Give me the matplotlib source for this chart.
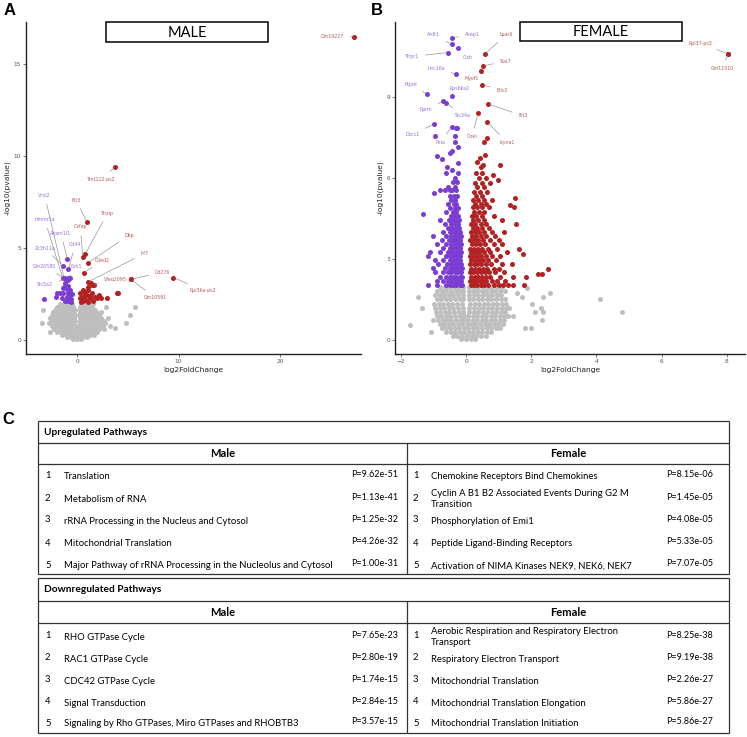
import matplotlib
matplotlib.use('Agg')
import matplotlib.pyplot as plt
from matplotlib.patches import Rectangle

PURPLE = '#7A3CD2'
RED = '#B22222'
GRAY = '#BEBEBE'
LAB_P = '#9470D6'
LAB_R = '#B55A5A'

# ---------------- MALE volcano data ----------------
# non-significant (grey) genes, rows of (-log10 p, [log2FC ...])
male_ns_rows = [
    (0.03, [-0.4, 0.0, 0.4]),
    (0.15, [-1.0, -0.6, -0.2, 0.2, 0.6, 1.0]),
    (0.30, [-1.5, -1.1, -0.7, -0.3, 0.1, 0.5, 0.9, 1.3, 1.7]),
    (0.45, [-2.67, -2.0, -1.6, -1.2, -0.8, -0.4, 0.0, 0.4, 0.8, 1.2, 1.6, 2.0]),
    (0.60, [-2.3, -1.9, -1.5, -1.1, -0.7, -0.3, 0.2, 0.6, 1.0, 1.4, 1.8, 2.2, 2.6]),
    (0.64, [3.76]),
    (0.75, [-2.5, -2.1, -1.7, -1.3, -0.9, -0.5, -0.15, 0.2, 0.55, 0.95, 1.35, 1.75, 2.15, 2.55, 3.27]),
    (0.90, [-3.5, -2.8, -2.4, -2.0, -1.6, -1.2, -0.8, -0.4, 0.3, 0.7, 1.1, 1.5, 1.9, 2.3, 2.7, 4.85]),
    (1.05, [-2.6, -2.2, -1.8, -1.4, -1.0, -0.6, -0.25, 0.25, 0.6, 1.0, 1.4, 1.8, 2.2, 2.6]),
    (1.20, [-2.7, -2.3, -1.9, -1.5, -1.1, -0.7, -0.3, 0.3, 0.7, 1.1, 1.5, 1.9, 2.3, 3.0]),
    (1.35, [-2.5, -2.1, -1.7, -1.3, -0.9, -0.5, -0.2, 0.2, 0.55, 0.95, 1.35, 1.75, 2.15, 5.25]),
    (1.50, [-2.4, -2.0, -1.6, -1.2, -0.8, -0.4, 0.3, 0.7, 1.1, 1.5, 1.9, 2.3]),
    (1.65, [-3.4, -2.2, -1.8, -1.4, -1.0, -0.6, -0.25, 0.25, 0.6, 1.0, 1.4, 1.8]),
    (1.80, [-2.0, -1.6, -1.2, -0.8, -0.4, 0.3, 0.7, 1.1, 1.5, 2.87, 5.74]),
    (1.95, [-1.7, -1.3, -0.9, -0.5, 0.4, 0.8, 1.2, 1.6]),
]
male_down_x = [-3.27, -2.08, -2.0, -1.42, -0.86, -1.29, -1.1, -0.93, -0.7, -1.16, -0.96, -0.7,
               -0.86, -1.02, -0.63, -0.8, -1.36, -1.52, -1.68, -0.6, -0.9, -1.2, -0.55, -1.3]
male_down_y = [2.24, 2.36, 2.55, 2.82, 2.95, 3.36, 3.3, 3.25, 3.38, 3.09, 2.76, 2.7,
               2.55, 2.33, 2.25, 2.4, 2.55, 2.27, 2.55, 2.05, 2.1, 2.15, 2.5, 2.9]
male_up_x = [1.62, 1.4, 3.99, 2.94, 2.11, 2.3, 1.95, 0.3, 0.45, 0.8, 1.02, 1.22, 0.9, 0.56,
             0.3, 1.3, 1.45, 1.8, 0.6, 1.1, 0.35, 1.1, 1.6, 0.7, 1.0, 3.9]
male_up_y = [3.0, 3.1, 2.55, 2.31, 2.45, 2.3, 2.27, 2.55, 2.36, 2.55, 2.73, 2.42, 2.2, 2.13,
             2.27, 2.27, 2.55, 2.36, 2.73, 2.9, 2.05, 2.05, 2.1, 2.4, 2.45, 2.55]
# labelled genes
male_lab_names = ['Gm19227', 'Tmt112-ps2', 'Ifit3', 'Cxfap', 'Tnxip', 'Dbp', 'Ciled2', 'Irf7',
                  'Vfeq2095', 'Cd276', 'Gm10591', 'Rpl36a-ps2',
                  'Vcsl2', 'Hmmr1a', 'Abam1l1', 'Cd44', 'Zc3h11a', 'Ezh1', 'Gm20580', 'Slc5a3']
male_lab_x = [27.3, 3.7, 0.96, 0.56, 0.79, 1.02, 0.63, 1.02, 1.5, 5.3, 5.3, 9.5,
              -1.29, -1.42, -0.96, -0.86, -1.42, -0.86, -1.29, -1.1]
male_lab_y = [16.5, 9.4, 6.42, 4.5, 4.67, 4.18, 3.64, 3.15, 3.0, 3.3, 3.3, 3.4,
              3.36, 3.36, 4.4, 3.85, 4.05, 3.38, 3.36, 3.3]
male_lab_up = [1, 1, 1, 1, 1, 1, 1, 1, 1, 1, 1, 1, 0, 0, 0, 0, 0, 0, 0, 0]
# label text placement (layout)
male_lab_txt = [(25.2, 16.5), (2.4, 8.75), (-0.1, 7.6), (0.3, 6.15), (3.0, 6.9), (5.1, 5.7),
                (2.5, 4.35), (6.6, 4.7), (3.8, 3.27), (8.4, 3.7), (7.7, 2.3), (12.4, 2.7),
                (-3.2, 7.85), (-3.2, 6.55), (-1.6, 5.8), (-0.2, 5.2), (-3.2, 5.0), (-0.1, 4.0),
                (-3.2, 4.0), (-3.2, 3.0)]

# ---------------- FEMALE volcano data ----------------
female_ns_rows = [
    (0.03, [-0.15, 0.0, 0.15, 0.28]),
    (0.15, [-0.4, -0.27, -0.12, 0.04, 0.18, 0.32, 0.47, 0.6]),
    (0.30, [-1.07, -0.6, -0.47, -0.33, -0.2, -0.06, 0.08, 0.22, 0.36, 0.5, 0.64, 0.78]),
    (0.45, [-0.75, -0.62, -0.48, -0.35, -0.21, -0.07, 0.07, 0.21, 0.35, 0.49, 0.63, 0.77, 0.91, 1.05, 1.81, 1.99]),
    (0.56, [-1.72]),
    (0.60, [-0.8, -0.67, -0.53, -0.4, -0.26, -0.12, 0.03, 0.15, 0.29, 0.43, 0.57, 0.71, 0.85, 0.99, 1.12]),
    (0.75, [-1.02, -0.86, -0.72, -0.58, -0.45, -0.31, -0.17, -0.05, 0.07, 0.2, 0.34, 0.48, 0.62, 0.76, 0.9, 1.04, 1.18, 2.32]),
    (0.90, [-0.9, -0.76, -0.62, -0.48, -0.34, -0.2, -0.07, 0.07, 0.2, 0.34, 0.48, 0.62, 0.76, 0.9, 1.04, 1.18, 1.3, 1.45]),
    (1.05, [-0.93, -0.79, -0.65, -0.51, -0.37, -0.23, -0.09, 0.09, 0.23, 0.37, 0.51, 0.65, 0.79, 0.93, 1.07, 1.21, 2.12, 2.37, 4.8]),
    (1.20, [-1.36, -0.95, -0.81, -0.67, -0.53, -0.39, -0.25, -0.1, 0.1, 0.25, 0.39, 0.53, 0.67, 0.81, 0.95, 1.09, 1.23, 1.33, 2.29]),
    (1.35, [-0.98, -0.84, -0.7, -0.56, -0.42, -0.28, -0.12, 0.12, 0.26, 0.4, 0.54, 0.68, 0.82, 0.96, 1.1, 1.24, 2.03]),
    (1.50, [-0.9, -0.76, -0.62, -0.48, -0.34, -0.2, -0.08, 0.08, 0.22, 0.36, 0.5, 0.64, 0.78, 0.92, 1.06, 1.2, 4.11]),
    (1.60, [-1.46, 1.73, 2.35]),
    (1.65, [-0.95, -0.81, -0.67, -0.53, -0.39, -0.25, -0.1, 0.1, 0.24, 0.38, 0.52, 0.66, 0.8, 0.94, 1.08]),
    (1.75, [1.55, 2.58]),
    (1.80, [-0.88, -0.74, -0.6, -0.46, -0.32, -0.18, -0.08, 0.08, 0.2, 0.34, 0.48, 0.62, 0.76, 0.9, 1.05, 1.2]),
    (1.92, [1.86]),
    (1.95, [-0.8, -0.66, -0.52, -0.38, -0.24, -0.1, 0.1, 0.24, 0.38, 0.52, 0.66, 0.8, 0.95, 1.1]),
]
female_down_rows = [
    (2.05, [-1.16, -0.9, -0.6, -0.5, -0.4, -0.3, -0.2, -0.12]),
    (2.20, [-0.9, -0.7, -0.55, -0.45, -0.35, -0.25, -0.15]),
    (2.35, [-0.8, -0.62, -0.5, -0.4, -0.3, -0.2, -0.12]),
    (2.50, [-0.95, -0.72, -0.55, -0.45, -0.35, -0.25, -0.15]),
    (2.65, [-1.0, -0.65, -0.5, -0.4, -0.3, -0.2, -0.12]),
    (2.80, [-0.85, -0.58, -0.45, -0.35, -0.25, -0.15]),
    (2.95, [-0.95, -0.7, -0.5, -0.4, -0.3, -0.2]),
    (3.10, [-1.16, -0.62, -0.48, -0.38, -0.28, -0.18]),
    (3.25, [-1.1, -0.8, -0.55, -0.42, -0.32, -0.22, -0.14]),
    (3.40, [-0.7, -0.5, -0.4, -0.3, -0.2]),
    (3.55, [-0.9, -0.6, -0.45, -0.35, -0.25, -0.16]),
    (3.70, [-0.75, -0.52, -0.4, -0.3, -0.2]),
    (3.85, [-1.02, -0.62, -0.45, -0.35, -0.25, -0.17]),
    (4.00, [-0.7, -0.5, -0.38, -0.28, -0.2]),
    (4.15, [-0.55, -0.42, -0.32, -0.22]),
    (4.30, [-0.65, -0.47, -0.35, -0.25]),
    (4.45, [-0.8, -0.52, -0.4, -0.3, -0.22]),
    (4.60, [-0.45, -0.34, -0.25]),
    (4.67, [-1.31]),
    (4.75, [-0.6, -0.4, -0.3]),
    (4.90, [-0.48, -0.35, -0.26]),
    (5.05, [-0.55, -0.38, -0.3]),
    (5.20, [-0.45, -0.33]),
    (5.35, [-0.5, -0.37, -0.28]),
    (5.45, [-0.97]),
    (5.55, [-0.79, -0.64, -0.49, -0.42, -0.3]),
    (5.65, [-0.55, -0.35]),
    (5.85, [-0.4, -0.29]),
    (6.00, [-0.33]),
    (6.17, [-0.6, -0.24]),
    (6.30, [-0.42]),
    (6.42, [-0.57]),
    (6.54, [-0.26]),
    (6.72, [-0.75]),
    (6.81, [-0.9]),
    (6.93, [-0.49]),
    (7.00, [-0.44]),
    (7.15, [-0.26]),
    (7.34, [-0.33]),
    (7.55, [-0.95, -0.33]),
    (7.84, [-0.32, -0.28]),
]
female_up_rows = [
    (2.05, [0.15, 0.25, 0.35, 0.45, 0.55, 0.68, 0.85, 1.02, 1.12, 1.3, 1.45, 1.79]),
    (2.20, [0.12, 0.22, 0.32, 0.42, 0.52, 0.62, 0.8, 0.95, 1.2]),
    (2.35, [0.15, 0.27, 0.38, 0.5, 0.6, 0.75, 1.05, 1.45, 1.84]),
    (2.45, [2.2, 2.32]),
    (2.50, [0.12, 0.22, 0.33, 0.45, 0.57, 0.7, 0.9, 1.15]),
    (2.62, [0.15, 0.27, 0.4, 0.52, 0.65, 0.85, 1.0, 2.53]),
    (2.80, [0.12, 0.23, 0.35, 0.47, 0.6, 0.78, 1.1, 1.4]),
    (2.95, [0.15, 0.28, 0.4, 0.52, 0.68, 0.92]),
    (3.10, [0.12, 0.22, 0.35, 0.47, 0.6, 0.8, 1.05]),
    (3.20, [1.76]),
    (3.25, [0.15, 0.27, 0.4, 0.55, 0.72, 1.25]),
    (3.38, [0.12, 0.25, 0.38, 0.5, 0.68, 0.95, 1.64]),
    (3.55, [0.17, 0.3, 0.42, 0.58, 0.85, 1.1]),
    (3.70, [0.13, 0.25, 0.38, 0.52, 0.72, 1.0]),
    (3.85, [0.18, 0.3, 0.45, 0.62, 0.9]),
    (4.00, [0.14, 0.26, 0.4, 0.55, 0.8, 1.15]),
    (4.15, [0.2, 0.33, 0.5, 0.7]),
    (4.30, [0.15, 0.28, 0.45, 0.62, 1.52]),
    (4.45, [0.22, 0.38, 0.55, 1.11]),
    (4.60, [0.18, 0.32, 0.5, 0.85]),
    (4.75, [0.25, 0.4, 0.55]),
    (4.92, [0.2, 0.35, 0.5, 0.7, 1.48]),
    (5.00, [1.35]),
    (5.05, [0.28, 0.45, 0.6]),
    (5.20, [0.22, 0.38, 0.55, 0.8]),
    (5.27, [1.5]),
    (5.35, [0.3, 0.48]),
    (5.50, [0.25, 0.42, 0.65]),
    (5.65, [0.35, 0.55]),
    (5.80, [0.28, 0.5, 0.75]),
    (5.93, [0.97]),
    (6.00, [0.4, 0.6]),
    (6.11, [0.82]),
    (6.20, [0.3, 0.5]),
    (6.40, [0.45]),
    (6.48, [0.51, 1.04]),
    (6.60, [0.35]),
    (6.75, [0.43]),
    (6.85, [0.58]),
    (7.32, [0.55]),
    (7.50, [0.65]),
]
female_lab_names = ['Ardt1', 'Akap1', 'Cish', 'Tfrpr1', 'Lrrc16a', 'Ptpdc', 'Rps6ka2', 'Rprm',
                    'Slc34a', 'Dscc1', 'Pkia',
                    'Lpar6', 'Sox7', 'Myof1', 'Ellc2', 'Ifit3', 'Cirel', 'Isyna1',
                    'Rpl37-ps3', 'Gm11510']
female_lab_x = [-0.43, -0.43, -0.25, -0.55, -0.3, -1.2, -0.43, -0.7, -0.61, -0.98, -0.43,
                0.58, 0.52, 0.46, 0.5, 0.67, 0.37, 0.65, 8.04, 8.04]
female_lab_y = [10.95, 11.2, 10.8, 10.65, 9.85, 9.1, 9.05, 8.85, 8.78, 8.0, 7.9,
                10.6, 10.15, 9.95, 9.45, 8.75, 8.4, 8.07, 10.6, 10.6]
female_lab_up = [0] * 11 + [1] * 9
female_lab_txt = [(-1.0, 11.3), (0.2, 11.3), (0.06, 10.45), (-1.65, 10.5), (-0.92, 10.07),
                  (-1.69, 9.48), (-0.2, 9.3), (-1.23, 8.52), (-0.1, 8.33), (-1.65, 7.6),
                  (-0.8, 7.33),
                  (1.23, 11.3), (1.2, 10.33), (0.18, 9.7), (1.1, 9.26), (1.75, 8.3),
                  (0.18, 7.52), (1.26, 7.33), (7.18, 11.0), (7.88, 10.04)]

# ---------------- Pathway table data ----------------
up_male_names = ['Translation', 'Metabolism of RNA', 'rRNA Processing in the Nucleus and Cytosol',
                 'Mitochondrial Translation',
                 'Major Pathway of rRNA Processing in the Nucleolus and Cytosol']
up_male_p = ['P=9.62e-51', 'P=1.13e-41', 'P=1.25e-32', 'P=4.26e-32', 'P=1.00e-31']
up_female_names = ['Chemokine Receptors Bind Chemokines',
                   'Cyclin A B1 B2 Associated Events During G2 M\nTransition',
                   'Phosphorylation of Emi1', 'Peptide Ligand-Binding Receptors',
                   'Activation of NIMA Kinases NEK9, NEK6, NEK7']
up_female_p = ['P=8.15e-06', 'P=1.45e-05', 'P=4.08e-05', 'P=5.33e-05', 'P=7.07e-05']
down_male_names = ['RHO GTPase Cycle', 'RAC1 GTPase Cycle', 'CDC42 GTPase Cycle',
                   'Signal Transduction', 'Signaling by Rho GTPases, Miro GTPases and RHOBTB3']
down_male_p = ['P=7.65e-23', 'P=2.80e-19', 'P=1.74e-15', 'P=2.84e-15', 'P=3.57e-15']
down_female_names = ['Aerobic Respiration and Respiratory Electron\nTransport',
                     'Respiratory Electron Transport', 'Mitochondrial Translation',
                     'Mitochondrial Translation Elongation', 'Mitochondrial Translation Initiation']
down_female_p = ['P=8.25e-38', 'P=9.19e-38', 'P=2.26e-27', 'P=5.86e-27', 'P=5.86e-27']


def flatten(rows):
    xs, ys = [], []
    for y, row in rows:
        for x in row:
            xs.append(x)
            ys.append(y)
    return xs, ys


W, H = 747, 737
fig = plt.figure(figsize=(W / 100, H / 100), dpi=100)
fig.patch.set_facecolor('white')


def style_axes(ax, xlabel_y):
    for s in ['top', 'right']:
        ax.spines[s].set_visible(False)
    for s in ['left', 'bottom']:
        ax.spines[s].set_color('#222222')
        ax.spines[s].set_linewidth(1.0)
    ax.tick_params(axis='both', labelsize=4.2, colors='#444444', length=2, width=0.5,
                   pad=1.5, labelcolor='#555555')
    ax.set_xlabel('log2FoldChange', fontsize=5.4, color='#222222', labelpad=xlabel_y)
    ax.set_ylabel('-log10(pvalue)', fontsize=5.4, color='#222222', labelpad=2)
    ax.set_facecolor('white')


def px2fig(l, t, r, b):
    return [l / W, 1 - b / H, (r - l) / W, (b - t) / H]


S = 13
LFS = 3.4
# ---- male panel ----
axm = fig.add_axes(px2fig(26, 22, 361, 354))
mx, my = flatten(male_ns_rows)
axm.scatter(mx, my, s=S, c=GRAY, linewidths=0, zorder=2)
axm.scatter(male_down_x, male_down_y, s=S, c=PURPLE, linewidths=0, zorder=3)
axm.scatter(male_up_x, male_up_y, s=S, c=RED, linewidths=0, zorder=3)
for n, x, y, up, (tx, ty) in zip(male_lab_names, male_lab_x, male_lab_y, male_lab_up, male_lab_txt):
    col = RED if up else PURPLE
    axm.scatter([x], [y], s=S, c=col, linewidths=0, zorder=4)
    axm.annotate(n, xy=(x, y), xytext=(tx, ty), fontsize=LFS, color=LAB_R if up else LAB_P,
                 ha='center', va='center',
                 arrowprops=dict(arrowstyle='-', color='#8c8c8c', lw=0.45, shrinkA=2.5, shrinkB=1.5),
                 zorder=5)
axm.set_xlim(-5.05, 28.0)
axm.set_ylim(-0.76, 17.3)
axm.set_xticks([0, 10, 20])
axm.set_yticks([0, 5, 10, 15])
style_axes(axm, 2)

# ---- female panel ----
axf = fig.add_axes(px2fig(395, 22, 745, 354))
fx, fy = flatten(female_ns_rows)
axf.scatter(fx, fy, s=S, c=GRAY, linewidths=0, zorder=2)
dx, dy = flatten(female_down_rows)
axf.scatter(dx, dy, s=S, c=PURPLE, linewidths=0, zorder=3)
ux, uy = flatten(female_up_rows)
axf.scatter(ux, uy, s=S, c=RED, linewidths=0, zorder=3)
for n, x, y, up, (tx, ty) in zip(female_lab_names, female_lab_x, female_lab_y, female_lab_up, female_lab_txt):
    col = RED if up else PURPLE
    axf.scatter([x], [y], s=S, c=col, linewidths=0, zorder=4)
    axf.annotate(n, xy=(x, y), xytext=(tx, ty), fontsize=LFS, color=LAB_R if up else LAB_P,
                 ha='center', va='center',
                 arrowprops=dict(arrowstyle='-', color='#8c8c8c', lw=0.45, shrinkA=2.5, shrinkB=1.5),
                 zorder=5)
axf.set_xlim(-2.18, 8.56)
axf.set_ylim(-0.52, 11.78)
axf.set_xticks([-2, 0, 2, 4, 6, 8])
axf.set_yticks([0, 3, 6, 9])
style_axes(axf, 2)

# ---- overlay (pixel coordinates) ----
ov = fig.add_axes([0, 0, 1, 1])
ov.set_xlim(0, W)
ov.set_ylim(H, 0)
ov.axis('off')
ov.patch.set_alpha(0)

BOLD = dict(family='Liberation Sans', fontweight='bold')
ov.text(4, 10, 'A', fontsize=12, va='center', ha='left', **BOLD)
ov.text(371, 10, 'B', fontsize=12, va='center', ha='left', **BOLD)
ov.text(2, 419, 'C', fontsize=12, va='center', ha='left', **BOLD)

TF = 'Lato'
for (l, t, r, b, label, cx) in [(106, 22, 268, 42, 'MALE', 187), (520, 22, 682, 41, 'FEMALE', 601)]:
    ov.add_patch(Rectangle((l, t), r - l, b - t, facecolor='white', edgecolor='black', lw=1.1, zorder=6))
    ov.text(cx, (t + b) / 2 + 0.5, label, fontsize=10.5, family=TF, ha='center', va='center', zorder=7)

LC = '#333333'
LEFT, MID, RIGHT = 38, 407, 729
NFS = 6.8
PFS = 6.5


def hline(y, x0=LEFT, x1=RIGHT, lw=0.9):
    ov.plot([x0, x1], [y, y], color=LC, lw=lw, solid_capstyle='butt')


def vline(x, y0, y1, lw=0.9):
    ov.plot([x, x], [y0, y1], color=LC, lw=lw, solid_capstyle='butt')


def block(top, hdr, sub, bottom, title, rows_y, mnames, mp, fnames, fp):
    hline(top); hline(bottom); hline(hdr); hline(sub)
    vline(LEFT, top, bottom); vline(RIGHT, top, bottom); vline(MID, hdr, bottom)
    ov.text(44, (top + hdr) / 2, title, fontsize=7.3, family=TF, fontweight='bold', va='center')
    ov.text((LEFT + MID) / 2, (hdr + sub) / 2, 'Male', fontsize=8.0, family=TF, fontweight='bold',
            va='center', ha='center')
    ov.text((MID + RIGHT) / 2, (hdr + sub) / 2, 'Female', fontsize=8.0, family=TF, fontweight='bold',
            va='center', ha='center')
    for i, y in enumerate(rows_y):
        ov.text(45, y - 1, str(i + 1), fontsize=NFS, family=TF, va='center')
        ov.text(64, y, mnames[i], fontsize=NFS, family=TF, va='center')
        ov.text(351, y - 2, mp[i], fontsize=PFS, family=TF, va='center')
        ov.text(413, y - 1, str(i + 1), fontsize=NFS, family=TF, va='center')
        ov.text(431, y, fnames[i], fontsize=NFS, family=TF, va='center', linespacing=1.3)
        ov.text(666, y - 2, fp[i], fontsize=PFS, family=TF, va='center')


block(421, 443, 464, 574, 'Upregulated Pathways', [476, 499, 521, 544, 566],
      up_male_names, up_male_p, up_female_names, up_female_p)
block(578, 601, 623, 733, 'Downregulated Pathways', [637, 659, 681, 703, 724],
      down_male_names, down_male_p, down_female_names, down_female_p)

fig.savefig('out.png', dpi=100, facecolor='white')
